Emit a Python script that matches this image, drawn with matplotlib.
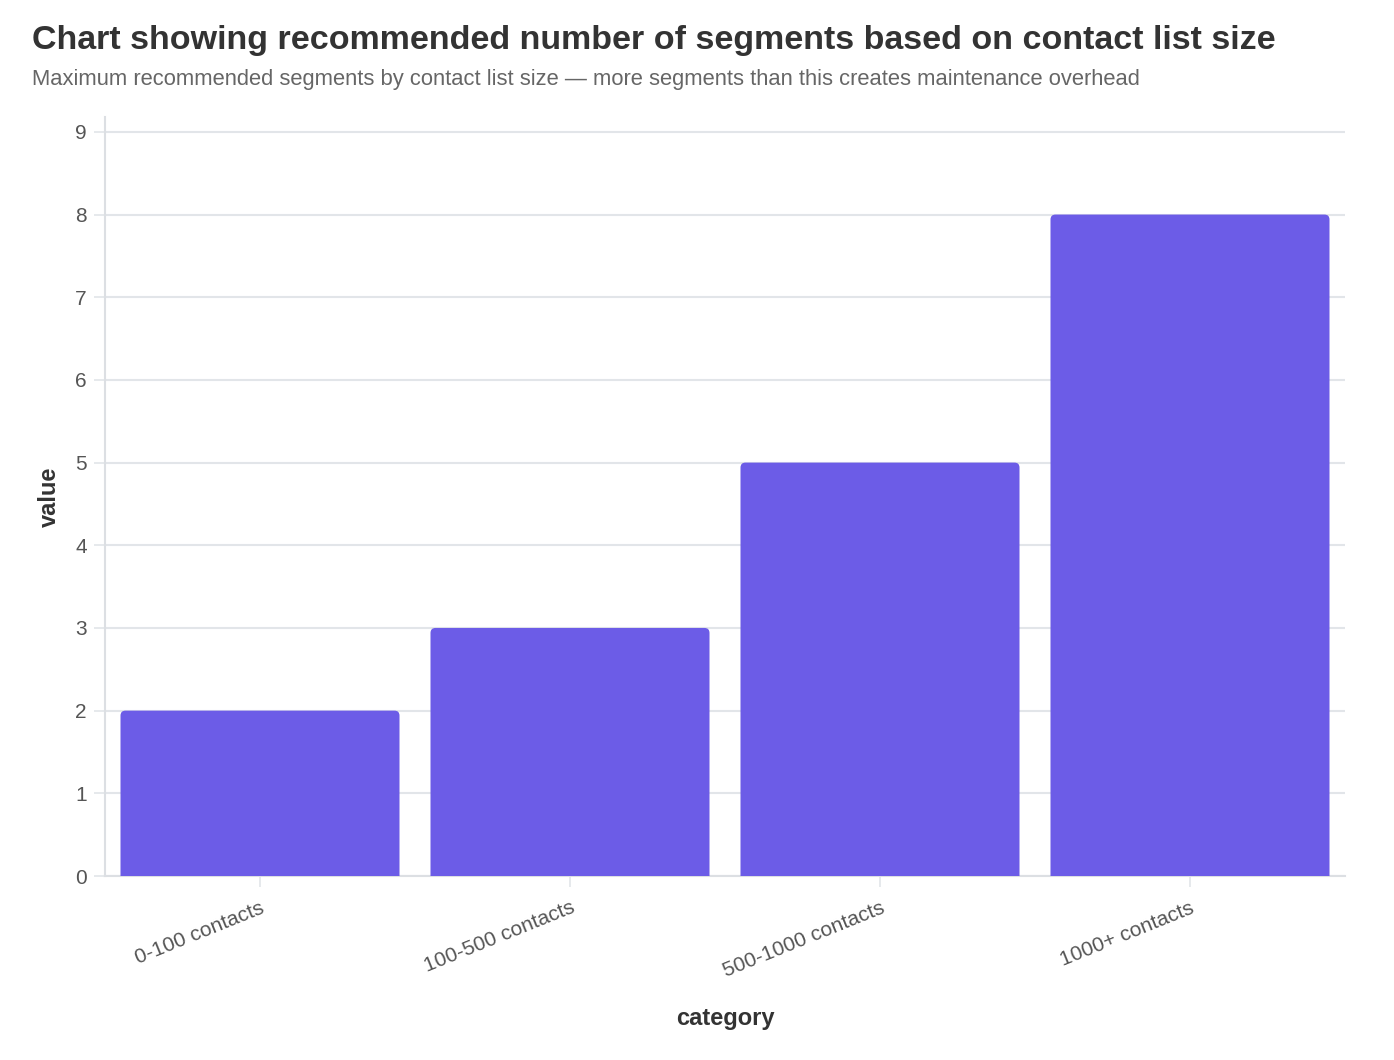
import matplotlib
matplotlib.use("Agg")
import matplotlib.pyplot as plt
from matplotlib.patches import FancyBboxPatch

plt.rcParams['font.family'] = ['Liberation Sans', 'DejaVu Sans']

categories = ["0-100 contacts", "100-500 contacts", "500-1000 contacts", "1000+ contacts"]
values = [2, 3, 5, 8]
y_ticks = [0, 1, 2, 3, 4, 5, 6, 7, 8, 9]

bar_color = "#6c5ce7"
grid_color = "#e2e5e9"

fig = plt.figure(figsize=(13.94, 10.6), dpi=100)
ax = fig.add_axes([105 / 1394, 1 - 876 / 1060, 1240 / 1394, (876 - 117) / 1060])

x = list(range(len(categories)))
bars = ax.bar(x, values, width=0.9, color=bar_color, zorder=3)

ax.set_xlim(-0.5, len(categories) - 0.5)
ax.set_ylim(0, 9.18)

# swap plain rects for ones with slightly rounded tops
px_x = 1240 / 4.0
px_y = (876 - 132) / 9.0
r = 5 / px_x
for b in bars:
    b.set_visible(False)
    p = FancyBboxPatch((b.get_x(), -0.3), b.get_width(), b.get_height() + 0.3,
                       boxstyle=f"round,pad=0,rounding_size={r}",
                       mutation_aspect=px_x / px_y,
                       facecolor=bar_color, edgecolor="none", zorder=3)
    ax.add_patch(p)

ax.set_yticks(y_ticks)
ax.set_xticks(x)
ax.set_xticklabels(categories, rotation=22, ha="right", rotation_mode="anchor")
ax.grid(axis="y", color=grid_color, linewidth=1.5, zorder=0)
ax.tick_params(axis="y", colors=grid_color, labelcolor="#555555", labelsize=15,
               length=8, width=1.2, pad=5)
ax.tick_params(axis="x", colors=grid_color, labelcolor="#555555", labelsize=15,
               length=8, width=1.2, pad=8)

for s in ["top", "right"]:
    ax.spines[s].set_visible(False)
for s in ["left", "bottom"]:
    ax.spines[s].set_color("#dcdfe3")
    ax.spines[s].set_linewidth(1.5)

ax.set_ylabel("value", fontsize=17, fontweight="bold", color="#333333", labelpad=10)
ax.set_xlabel("category", fontsize=17, fontweight="bold", color="#333333", labelpad=19)

fig.text(32 / 1394, 1 - 40 / 1060, "Chart showing recommended number of segments based on contact list size",
         fontsize=24.5, fontweight="bold", color="#333333", va="center", ha="left")
fig.text(32 / 1394, 1 - 80 / 1060,
         "Maximum recommended segments by contact list size \u2014 more segments than this creates maintenance overhead",
         fontsize=15.8, color="#666666", va="center", ha="left")

fig.savefig("out.png", dpi=100, facecolor="white")
